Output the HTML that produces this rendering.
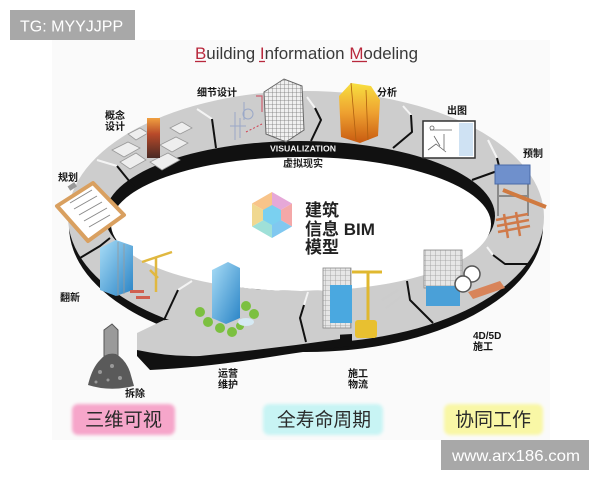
<!DOCTYPE html>
<html><head><meta charset="utf-8"><style>
html,body{margin:0;padding:0;background:#fff;width:600px;height:480px;overflow:hidden}
svg{display:block}
text{font-family:"Liberation Sans","Noto Sans CJK SC",sans-serif}
.lb{font-size:10px;font-weight:bold;fill:#151515}
.big{font-size:19px;fill:#2a2a2a}
</style></head><body>
<svg width="600" height="480" viewBox="0 0 600 480" xmlns="http://www.w3.org/2000/svg">
<defs>
 <linearGradient id="yel" x1="0" y1="0" x2="0" y2="1"><stop offset="0" stop-color="#f8e040"/><stop offset="0.5" stop-color="#eea030"/><stop offset="1" stop-color="#c85a10"/></linearGradient>
 <linearGradient id="red" x1="0" y1="0" x2="0" y2="1"><stop offset="0" stop-color="#f0a040"/><stop offset="0.4" stop-color="#b84a2a"/><stop offset="1" stop-color="#4a2a24"/></linearGradient>
 <linearGradient id="blue" x1="0" y1="0" x2="1" y2="1"><stop offset="0" stop-color="#a8dcf6"/><stop offset="1" stop-color="#2a84c6"/></linearGradient>
 <pattern id="grid" width="4" height="4" patternUnits="userSpaceOnUse"><rect width="4" height="4" fill="#f0f0f0"/><path d="M0 0H4M0 0V4" stroke="#777" stroke-width="0.8"/></pattern>
 <pattern id="scaf" width="5" height="5" patternUnits="userSpaceOnUse"><rect width="5" height="5" fill="#e6e6e6"/><path d="M0 0H5M0 0V5" stroke="#999" stroke-width="0.8"/></pattern>
 <filter id="soft" x="-20%" y="-30%" width="140%" height="160%"><feGaussianBlur stdDeviation="1.6"/></filter>
</defs>

<rect x="52" y="40" width="498" height="400" fill="#fafafa"/>

<!-- title -->
<text x="195" y="59" font-size="16.5" fill="#3a3a3a" textLength="223" lengthAdjust="spacingAndGlyphs"><tspan fill="#b8283c">B</tspan>uilding <tspan fill="#b8283c">I</tspan>nformation <tspan fill="#b8283c">M</tspan>odeling</text>
<g stroke="#b8283c" stroke-width="1.3">
 <line x1="195" y1="61.5" x2="206" y2="61.5"/>
 <line x1="259" y1="61.5" x2="265" y2="61.5"/>
 <line x1="352" y1="61.5" x2="367" y2="61.5"/>
</g>

<!-- ring -->
<ellipse cx="306" cy="226" rx="237" ry="126" fill="#111"/>
<ellipse cx="306" cy="217" rx="238" ry="126" fill="#cdcdcd"/>
<path d="M137,346 L137,356 L150,370 Q200,368 270,357 Q320,349 352,346 L352,334 Z" fill="#111"/>
<path d="M164,320 L137,333 L137,350 Q170,357 200,356 Q270,349 340,339 L340,318 Z" fill="#cdcdcd"/>
<ellipse cx="300" cy="216" rx="195" ry="75" fill="#111"/>
<ellipse cx="301" cy="224" rx="190" ry="67" fill="#fff"/>

<!-- visualization band text -->
<text x="270" y="151.5" font-size="8" font-weight="bold" fill="#f2f2f2" textLength="66" lengthAdjust="spacingAndGlyphs">VISUALIZATION</text>
<text x="283" y="167" font-size="10" font-weight="bold" fill="#222">虚拟现实</text>

<!-- dividers -->
<g fill="none" stroke-width="2" stroke-linejoin="round">
 <g stroke="#f4f4f4">
  <path d="M97,160 L117,166"/>
  <path d="M197,109 L212,119"/>
  <path d="M307,97 L315,108"/>
  <path d="M403,106 L411,115"/>
  <path d="M488,140 L497,158"/>
  <path d="M487,247 L493,255"/>
  <path d="M308,292 L304,305"/>
  <path d="M192,281 L178,290"/>
 </g>
 <g stroke="#111">
  <path d="M117,166 L134,187"/>
  <path d="M212,119 L216,148"/>
  <path d="M315,108 L321,120 L311,141"/>
  <path d="M411,115 L412,132 L393,148"/>
  <path d="M497,158 L500,170 L472,180"/>
  <path d="M493,255 L505,264 L530,264"/>
  <path d="M407,281 L410,300 L433,323"/>
  <path d="M304,305 L300,318 L306,342"/>
  <path d="M178,290 L164,320"/>
  <path d="M110,238 L100,246 L80,258"/>
 </g>
</g>

<!-- 规划 clipboard -->
<polygon points="57,206 93,183 124,215 88,241" fill="#fff" stroke="#d9a060" stroke-width="4" stroke-linejoin="round"/>
<g stroke="#888" stroke-width="1">
 <line x1="70" y1="203" x2="92" y2="190"/><line x1="74" y1="209" x2="97" y2="196"/>
 <line x1="79" y1="215" x2="102" y2="202"/><line x1="84" y1="221" x2="107" y2="208"/>
 <line x1="89" y1="227" x2="110" y2="215"/>
</g>
<rect x="68" y="184" width="8" height="5" fill="#999" transform="rotate(-33 72 186)"/>

<!-- 概念设计 model -->
<g fill="#eee" stroke="#999" stroke-width="0.8">
 <polygon points="112,150 128,142 140,148 124,157"/>
 <polygon points="120,162 136,153 146,160 130,169"/>
 <polygon points="160,145 176,137 188,143 172,152"/>
 <polygon points="150,162 168,153 180,160 162,170"/>
 <polygon points="170,128 182,122 192,128 180,134"/>
 <polygon points="128,134 140,128 148,133 136,140"/>
</g>
<rect x="147" y="118" width="13" height="40" fill="url(#red)"/>

<!-- 细节设计 drawings and tower -->
<g fill="none" stroke="#9aa8c8" stroke-width="1">
 <path d="M235,112 V140 M240,118 V138 M230,126 H246"/>
 <circle cx="248" cy="114" r="5"/>
 <path d="M244,102 V120"/>
</g>
<path d="M256,96 H262 V112" fill="none" stroke="#d06070" stroke-width="1.2"/>
<path d="M246,132 L262,124" stroke="#d04050" stroke-width="1" stroke-dasharray="2 2"/>
<polygon points="264,92 284,79 302,86 304,130 286,142 266,134" fill="url(#grid)" stroke="#666" stroke-width="1"/>

<!-- 分析 tower -->
<polygon points="339,96 351,83 371,86 380,100 378,136 360,143 341,137" fill="url(#yel)"/>
<path d="M351,83 L356,140 M366,90 L368,140" stroke="#b06010" stroke-width="0.8" fill="none"/>

<!-- 出图 drawing -->
<rect x="423" y="121" width="52" height="37" fill="#fff" stroke="#333" stroke-width="1.5"/>
<rect x="459" y="123" width="14" height="33" fill="#cfe2f3"/>
<g stroke="#666" stroke-width="0.8" fill="none">
 <path d="M430,130 H452 M434,136 L440,146 M444,134 V150 M428,150 L436,144 L446,152"/>
 <circle cx="432" cy="128" r="2"/>
</g>

<!-- 预制 machine and lumber -->
<path d="M498,184 V216 M528,184 V216 M498,196 H528" stroke="#8a8a8a" stroke-width="2" fill="none"/>
<rect x="495" y="165" width="35" height="19" fill="#6f90cc" stroke="#4a6aa8" stroke-width="1"/>
<path d="M503,190 L546,207" stroke="#d07a40" stroke-width="4"/>
<g stroke="#d07a4a" stroke-width="2.5">
 <line x1="496" y1="220" x2="528" y2="214"/><line x1="497" y1="226" x2="529" y2="220"/>
 <line x1="498" y1="232" x2="530" y2="226"/><line x1="504" y1="214" x2="508" y2="238"/>
 <line x1="516" y1="212" x2="520" y2="236"/>
</g>

<!-- 4D/5D building -->
<rect x="424" y="250" width="38" height="38" fill="url(#scaf)" stroke="#888" stroke-width="0.8"/>
<rect x="426" y="286" width="34" height="20" fill="#4aa0d8"/>
<circle cx="472" cy="274" r="8" fill="#fff" stroke="#555" stroke-width="1.5"/>
<circle cx="463" cy="284" r="8" fill="#fff" stroke="#555" stroke-width="1.5"/>
<polygon points="468,292 500,281 505,288 473,299" fill="#d8845a"/>

<!-- 施工物流 building -->
<rect x="323" y="268" width="28" height="60" fill="url(#scaf)" stroke="#888" stroke-width="0.8"/>
<rect x="330" y="285" width="22" height="38" fill="#4aa8e0"/>
<path d="M368,272 V326 M352,272 H382" stroke="#e0b830" stroke-width="3" fill="none"/>
<rect x="355" y="320" width="22" height="18" rx="3" fill="#e8c030"/>
<path d="M382,300 L398,290 M386,308 L402,296" stroke="#ccc" stroke-width="2"/>

<!-- 运营维护 tower and trees -->
<polygon points="212,270 228,262 240,268 240,318 226,324 212,318" fill="url(#blue)"/>
<g fill="#7cc040">
 <circle cx="200" cy="312" r="5"/><circle cx="208" cy="322" r="5"/><circle cx="220" cy="328" r="5"/>
 <circle cx="232" cy="332" r="5"/><circle cx="246" cy="306" r="5"/><circle cx="254" cy="314" r="5"/>
 <circle cx="240" cy="326" r="4"/>
</g>
<ellipse cx="246" cy="322" rx="8" ry="4" fill="#d6eaf4"/>

<!-- 翻新 building, crane, bricks -->
<polygon points="100,248 116,240 133,246 133,290 116,296 100,290" fill="url(#blue)"/>
<path d="M118,242 V296 M124,244 V294" stroke="#999" stroke-width="0.8"/>
<path d="M156,258 V292 M142,262 L172,252 M150,270 L158,278" stroke="#e0b840" stroke-width="2.5" fill="none"/>
<g fill="#d06050"><rect x="130" y="290" width="14" height="3"/><rect x="136" y="296" width="14" height="3"/></g>

<!-- 拆除 rubble -->
<path d="M104,330 L112,324 L118,330 L118,356 L104,356 Z" fill="#9a9a9a" stroke="#555" stroke-width="1"/>
<path d="M88,385 Q92,368 100,360 Q106,352 116,354 Q126,360 130,372 L134,386 Q110,392 88,385 Z" fill="#5a5a5a"/>
<g fill="#999"><circle cx="100" cy="372" r="2"/><circle cx="112" cy="366" r="2"/><circle cx="120" cy="378" r="2"/><circle cx="96" cy="382" r="1.5"/><circle cx="108" cy="380" r="1.5"/></g>

<!-- center cube -->
<g>
 <polygon points="272,215 252,203.5 272,192" fill="#f8c48a"/>
 <polygon points="272,215 272,192 292,203.5" fill="#e6a8d8"/>
 <polygon points="272,215 292,203.5 292,226.5" fill="#f4a8a8"/>
 <polygon points="272,215 292,226.5 272,238" fill="#80c8f0"/>
 <polygon points="272,215 272,238 252,226.5" fill="#9fe0d8"/>
 <polygon points="272,215 252,226.5 252,203.5" fill="#f0d890"/>
 <polygon points="272,205 281,210 281,220 272,225 263,220 263,210" fill="#7ad0f0"/>
</g>
<text x="305" y="216" font-size="17" font-weight="bold" fill="#222">建筑</text>
<text x="305" y="235" font-size="17" font-weight="bold" fill="#222">信息 BIM</text>
<text x="305" y="253" font-size="17" font-weight="bold" fill="#222">模型</text>

<!-- small labels -->
<text class="lb" x="197" y="96">细节设计</text>
<text class="lb" x="377" y="96">分析</text>
<text class="lb" x="105" y="119">概念</text>
<text class="lb" x="105" y="130">设计</text>
<text class="lb" x="58" y="181">规划</text>
<text class="lb" x="447" y="114">出图</text>
<text class="lb" x="523" y="157">预制</text>
<text class="lb" x="60" y="301">翻新</text>
<text class="lb" x="125" y="397">拆除</text>
<text class="lb" x="218" y="377">运营</text>
<text class="lb" x="218" y="388">维护</text>
<text class="lb" x="348" y="377">施工</text>
<text class="lb" x="348" y="388">物流</text>
<text class="lb" x="473" y="339">4D/5D</text>
<text class="lb" x="473" y="350">施工</text>

<!-- bottom label boxes -->
<rect x="72" y="404" width="103" height="31" rx="6" fill="#f6a6ca" filter="url(#soft)"/>
<rect x="263" y="404" width="120" height="31" rx="6" fill="#c8f4f4" filter="url(#soft)"/>
<rect x="444" y="404" width="99" height="31" rx="6" fill="#f9f7a6" filter="url(#soft)"/>
<text class="big" x="85" y="426" textLength="77" lengthAdjust="spacingAndGlyphs">三维可视</text>
<text class="big" x="277" y="426" textLength="94" lengthAdjust="spacingAndGlyphs">全寿命周期</text>
<text class="big" x="455" y="426" textLength="76" lengthAdjust="spacingAndGlyphs">协同工作</text>

<!-- watermarks -->
<rect x="10" y="10" width="125" height="30" fill="#a8a8a8"/>
<text x="20" y="31.5" font-size="16" fill="#fff">TG: MYYJJPP</text>
<rect x="441" y="440" width="148" height="30" fill="#a8a8a8"/>
<text x="452" y="461" font-size="16" fill="#fff" textLength="128" lengthAdjust="spacingAndGlyphs">www.arx186.com</text>
</svg>
</body></html>
